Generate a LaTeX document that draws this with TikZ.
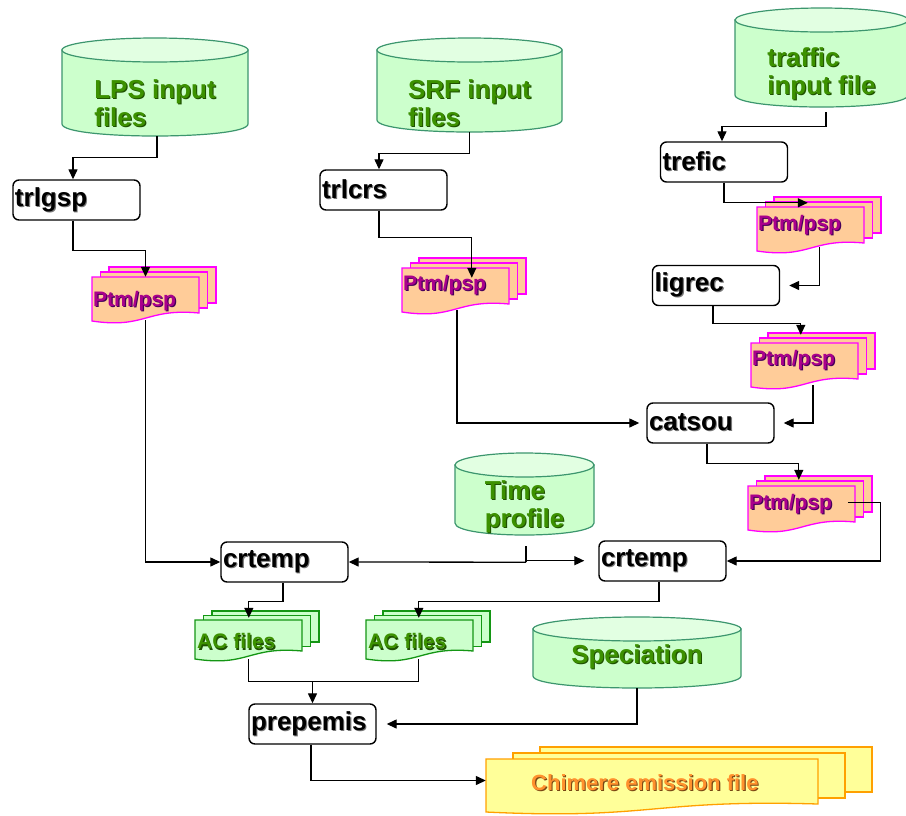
\documentclass[tikz,border=0pt]{standalone}
\usepackage{fontspec}
\setmainfont{Liberation Sans}
\usetikzlibrary{arrows.meta,calc}
\definecolor{cylstroke}{RGB}{60,150,110}
\definecolor{cylfillc}{RGB}{204,255,204}
\definecolor{cyltopc}{RGB}{226,255,226}
\definecolor{greentext}{RGB}{60,145,0}
\definecolor{greenshadow}{RGB}{30,80,0}
\definecolor{ptmfill}{RGB}{255,204,153}
\definecolor{ptmline}{RGB}{255,0,255}
\definecolor{ptmtext}{RGB}{170,0,140}
\definecolor{ptmshadow}{RGB}{70,0,90}
\definecolor{acline}{RGB}{20,150,20}
\definecolor{chfill}{RGB}{255,255,153}
\definecolor{chline}{RGB}{255,160,0}
\definecolor{chtext}{RGB}{255,145,45}
\definecolor{chshadow}{RGB}{120,70,20}
\definecolor{blackshadow}{RGB}{120,120,120}
% text with a small drop shadow
\newcommand\shd[2]{\makebox[0pt][l]{\hspace{1.1pt}\raisebox{-1.1pt}{\textcolor{#1}{#2}}}#2}
\tikzset{
  cylbody/.style={fill=cylfillc, draw=cylstroke, line width=1.2pt},
  cyltop/.style={fill=cyltopc, draw=cylstroke, line width=1.2pt},
  cyltext/.style={font=\fontsize{26}{28}\selectfont\bfseries, text=greentext, align=left, inner sep=0pt},
  pbox/.style={draw=black, line width=1.4pt, rounded corners=6pt, fill=white, minimum height=40pt, text width=123pt, inner xsep=2pt, inner ysep=0pt, align=left, font=\fontsize{26}{28}\selectfont\bfseries},
  ptmdoc/.style={fill=ptmfill, draw=ptmline, line width=1.3pt},
  ptmtxt/.style={font=\fontsize{21}{24}\selectfont\bfseries, text=ptmtext, anchor=west, inner xsep=1pt},
  acdoc/.style={fill=cylfillc, draw=acline, line width=1.3pt},
  actxt/.style={font=\fontsize{21}{24}\selectfont\bfseries, text=greentext, anchor=west, inner xsep=2pt},
  chdoc/.style={fill=chfill, draw=chline, line width=1.3pt},
  chtxt/.style={font=\fontsize{22}{24}\selectfont\bfseries, text=chtext, anchor=west, inner xsep=0pt},
  arr/.style={draw=black, line width=1.3pt, -{Triangle[length=10pt,width=9pt]}},
  plainline/.style={draw=black, line width=1.3pt},
}
% cylinder: name, x1, ytop, x2, ybottom, text y, text
\newcommand\dbcyl[7]{%
  \pgfmathsetmacro\cyCX{(#2+#4)/2}%
  \pgfmathsetmacro\cyRX{(#4-#2)/2}%
  \pgfmathsetmacro\cyYT{#3+12}%
  \pgfmathsetmacro\cyYB{#5-12}%
  \pgfmathsetmacro\cyYC{#5+4}%
  \pgfmathsetmacro\cyW{#4-#2}%
  \pgfmathsetmacro\cyH{#5-#3}%
  \pgfmathsetmacro\cyYM{(#3+#5)/2}%
  \filldraw[cylbody] (#2,\cyYT) -- (#2,\cyYB) .. controls (#2,\cyYC) and (#4,\cyYC) .. (#4,\cyYB) -- (#4,\cyYT) -- cycle;
  \filldraw[cyltop] (\cyCX,\cyYT) ellipse [x radius=\cyRX, y radius=12];
  \node[inner sep=0pt, minimum width=\cyW pt, minimum height=\cyH pt] (#1) at (\cyCX,\cyYM) {};
  \node[cyltext] (#1-t) at (\cyCX,#6) {#7};
}
% multi document: name, x, ytop, w, h(right edge), dx, dy, style
\newcommand\mdoc[8]{%
  \pgfmathsetmacro\mdA{#2+2*#6}%
  \pgfmathsetmacro\mdB{#3-2*#7}%
  \pgfmathsetmacro\mdC{#2+#6}%
  \pgfmathsetmacro\mdD{#3-#7}%
  \pgfmathsetmacro\mdR{#2+#4}%
  \pgfmathsetmacro\mdE{#3+#5}%
  \pgfmathsetmacro\mdL{#3+#5+8}%
  \pgfmathsetmacro\mdM{#2+#4/2}%
  \pgfmathsetmacro\mdEu{#3+#5-5}%
  \pgfmathsetmacro\mdLd{#3+#5+16}%
  \pgfmathsetmacro\mdH{#5+8}%
  \pgfmathsetmacro\mdYM{#3+(#5+8)/2}%
  \filldraw[#8] (\mdA,\mdB) rectangle ++(#4,#5);
  \filldraw[#8] (\mdC,\mdD) rectangle ++(#4,#5);
  \filldraw[#8] (#2,#3) -- (\mdR,#3) -- (\mdR,\mdE) .. controls (\mdM,\mdEu) and (\mdM,\mdLd) .. (#2,\mdL) -- cycle;
  \node[inner sep=0pt, minimum width=#4pt, minimum height=\mdH pt] (#1) at (\mdM,\mdYM) {};
}
\begin{document}
\begin{tikzpicture}[x=1pt,y=-1pt]
\useasboundingbox (0,0) rectangle (906,815);
\fill[white] (0,0) rectangle (906,815);

% cylinders
\dbcyl{LPS}{62}{38}{248}{136}{104}{\shd{greenshadow}{LPS input}\\\shd{greenshadow}{files}}
\dbcyl{SRF}{377}{38}{562}{132}{104}{\shd{greenshadow}{SRF input}\\\shd{greenshadow}{files}}
\dbcyl{TRF}{735}{8}{908}{107}{74}{\shd{greenshadow}{traffic}\\\shd{greenshadow}{input file}}
\dbcyl{TP}{455}{453}{594}{535}{507}{\shd{greenshadow}{Time}\\\shd{greenshadow}{profile}}
\dbcyl{SPEC}{533}{617}{741}{688}{657}{\shd{greenshadow}{Speciation}}

% process boxes
\node[pbox] (trlgsp) at (76.5,200) {\shd{blackshadow}{trlgsp}};
\node[pbox] (trlcrs) at (383.5,190) {\shd{blackshadow}{trlcrs}};
\node[pbox] (trefic) at (724,162) {\shd{blackshadow}{trefic}};
\node[pbox] (ligrec) at (716,285.5) {\shd{blackshadow}{ligrec}};
\node[pbox] (catsou) at (710.5,423) {\shd{blackshadow}{catsou}};
\node[pbox] (crtA) at (284.5,562) {\shd{blackshadow}{crtemp}};
\node[pbox] (crtB) at (662.5,561) {\shd{blackshadow}{crtemp}};
\node[pbox] (prep) at (312.5,724) {\shd{blackshadow}{prepemis}};

% documents
\mdoc{P1}{92}{277}{107}{36}{8.5}{5}{ptmdoc}
\node[ptmtxt] (P1-t) at (92,302) {\shd{ptmshadow}{Ptm/psp}};
\mdoc{P2}{402}{268}{107}{36}{8.5}{5}{ptmdoc}
\node[ptmtxt] (P2-t) at (402,286) {\shd{ptmshadow}{Ptm/psp}};
\mdoc{P3}{757}{207}{107}{36}{8.5}{5}{ptmdoc}
\node[ptmtxt] (P3-t) at (757,226) {\shd{ptmshadow}{Ptm/psp}};
\mdoc{P4}{751}{343}{107}{36}{8.5}{5}{ptmdoc}
\node[ptmtxt] (P4-t) at (751,361) {\shd{ptmshadow}{Ptm/psp}};
\mdoc{P5}{748}{486}{107}{36}{8.5}{5}{ptmdoc}
\node[ptmtxt] (P5-t) at (748,505) {\shd{ptmshadow}{Ptm/psp}};
\mdoc{AC1}{195}{620}{107}{31}{8.5}{4.5}{acdoc}
\node[actxt] (AC1-t) at (195,642) {\shd{greenshadow}{AC files}};
\mdoc{AC2}{366}{620}{107}{31}{8.5}{4.5}{acdoc}
\node[actxt] (AC2-t) at (366,642) {\shd{greenshadow}{AC files}};
\mdoc{CHIM}{486}{759}{332}{45}{27}{6}{chdoc}
\node[chtxt] (CHIM-t) at (531,783) {\shd{chshadow}{Chimere emission file}};

% connectors
\draw[arr] ([xshift=2pt]LPS.south) -- ++(0,21) -| ([xshift=-3.5pt]trlgsp.north);
\draw[arr] ([xshift=-3.5pt]trlgsp.south) -- ++(0,30) -| (P1.north);
\draw[arr] (SRF.south) -- ++(0,21) -| ([xshift=-4.5pt]trlcrs.north);
\draw[arr] ([xshift=-4.5pt]trlcrs.south) -- ++(0,27) -| ($(P2.north west)+(70,10)$);
\draw[arr] ([xshift=4.5pt,yshift=-5pt]TRF.south) -- ++(0,14) -| ([xshift=-2pt]trefic.north);
\draw[arr] (trefic.south) |- ($(P3.north west)+(51,-4)$);
\draw[arr] ([xshift=9pt,yshift=4pt]P3.south) |- ([xshift=9pt]ligrec.east);
\draw[arr] ([xshift=-3pt]ligrec.south) -- ++(0,17) -| ($(P4.north west)+(50,-8)$);
\draw[arr] ([xshift=8.5pt,yshift=2pt]P4.south) |- ([xshift=9pt]catsou.east);
\draw[arr] ([xshift=-3.5pt]catsou.south) -- ++(0,20) -| ($(P5.north west)+(51,-6)$);
\draw[arr] ($(P5.north west)+(100,17)$) -- ++(33,0) |- (crtB.east);
\draw[arr] ([xshift=1.5pt,yshift=2pt]P2.south) |- ([xshift=-7pt]catsou.west);
\draw[arr] ([yshift=1pt]P1.south) |- (crtA.west);
\draw[plainline] ([xshift=1.5pt,yshift=-11pt]TP.south) -- ++(0,16) coordinate (tpj);
\coordinate (tpR) at ($(crtB.west)+(-14,0)$);
\draw[arr] (tpj) -- (crtA.east);
\draw[arr] ([yshift=1.5pt]tpj) -- ([yshift=1.5pt]tpj -| tpR);
\draw[arr] ([xshift=-1.5pt]crtA.south) -- ++(0,19) -| ($(AC1.north west)+(54,-2)$);
\draw[arr] ([xshift=-3.5pt]crtB.south) -- ++(0,20) -| ($(AC2.north west)+(53,-2)$);
\draw[plainline] ($(AC1.south west)+(54,0)$) -- ++(0,22) coordinate (acj) -| ($(AC2.south west)+(53,0)$);
\draw[arr] (acj -| prep.north) -- (prep.north);
\draw[arr] (SPEC.south) |- ([xshift=10pt]prep.east);
\draw[arr] ([xshift=-1.5pt]prep.south) |- ([yshift=5pt]CHIM.west);
\end{tikzpicture}
\end{document}
